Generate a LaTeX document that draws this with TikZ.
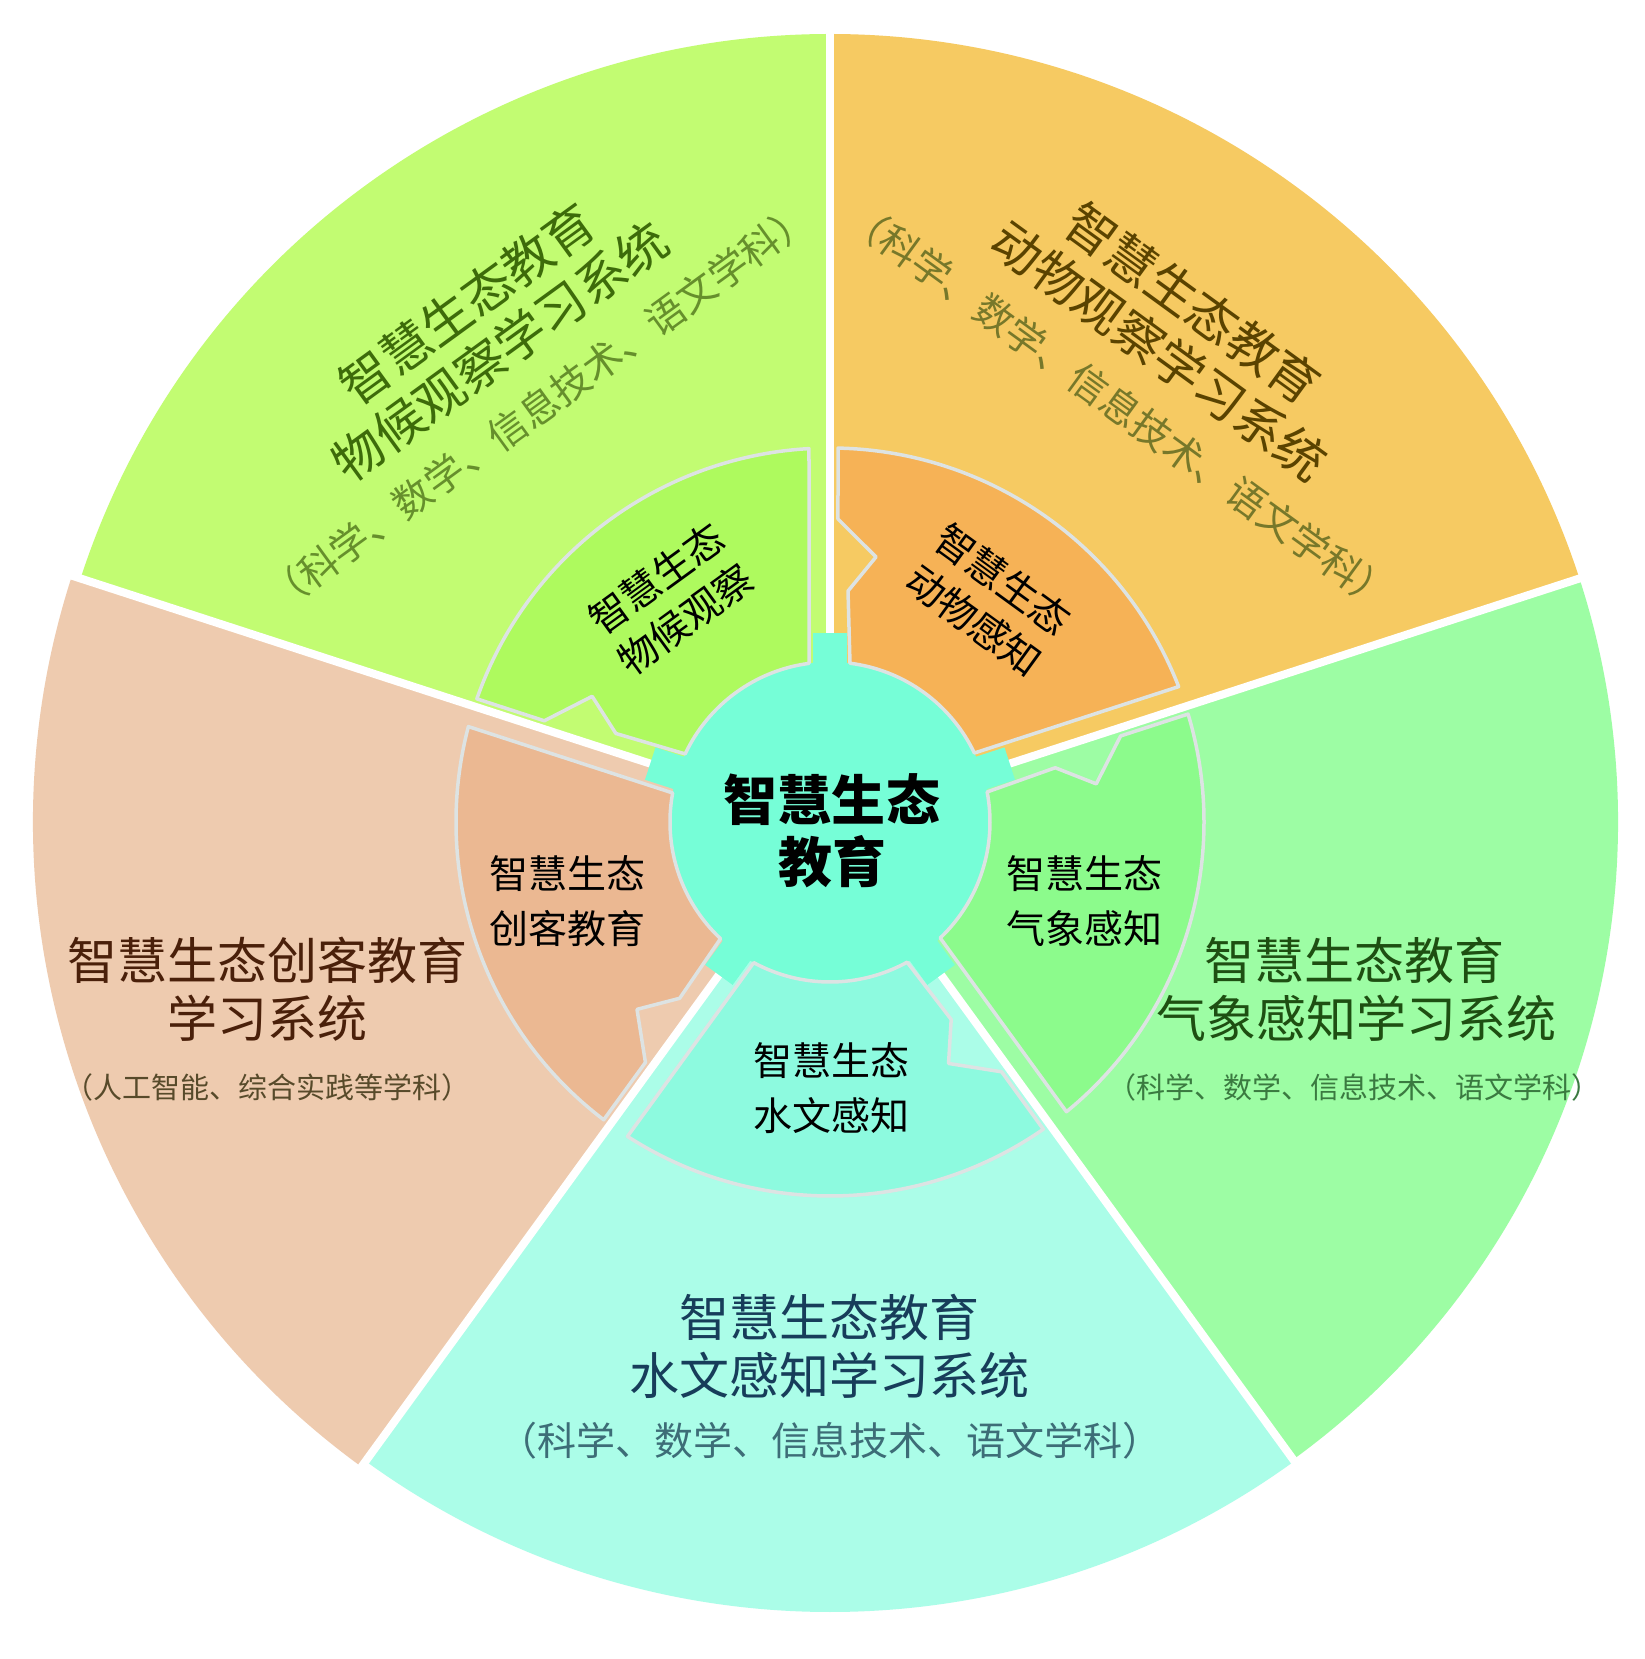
\documentclass[tikz,border=0pt]{standalone}
\usepackage{fontspec}
\setmainfont{Noto Sans CJK SC}
\definecolor{oTL}{HTML}{C2FC72}
\definecolor{oTR}{HTML}{F6CA62}
\definecolor{oR}{HTML}{9DFDA4}
\definecolor{oB}{HTML}{ABFDE8}
\definecolor{oL}{HTML}{EECBAF}
\definecolor{iTL}{HTML}{AEFA5E}
\definecolor{iTR}{HTML}{F6B256}
\definecolor{iR}{HTML}{8CFB8C}
\definecolor{iB}{HTML}{8DFADF}
\definecolor{iL}{HTML}{EBB892}
\definecolor{ctr}{HTML}{76FED7}
\definecolor{strokec}{HTML}{DDE3E3}
\definecolor{tTL}{HTML}{3D6B0A}
\definecolor{sTL}{HTML}{668F2C}
\definecolor{tTR}{HTML}{5A4300}
\definecolor{sTR}{HTML}{77782A}
\definecolor{tR}{HTML}{1E4F12}
\definecolor{sR}{HTML}{3A7A40}
\definecolor{tB}{HTML}{173D5A}
\definecolor{sB}{HTML}{3D6D77}
\definecolor{tL}{HTML}{4A200A}
\definecolor{sL}{HTML}{574A2A}
\begin{document}
\begin{tikzpicture}[x=1pt,y=1pt,
  piece/.style={draw=strokec, line width=3.5pt, line join=round},
  sep/.style={draw=white, line width=8pt},
  ttl/.style={font=\fontsize{50}{60}\selectfont, inner sep=0pt},
  subbig/.style={font=\fontsize{39}{46}\selectfont, inner sep=0pt},
  subsm/.style={font=\fontsize{29}{34}\selectfont, inner sep=0pt},
  inl/.style={font=\fontsize{39}{46}\selectfont, inner sep=0pt, text=black},
  ctl/.style={font=\fontsize{54}{64}\selectfont\bfseries, inner sep=0pt, text=black}
]
\useasboundingbox (-830,-837) rectangle (815,822);
\fill[white] (-830,-837) rectangle (815,822);
% outer sectors
\fill[oTL] (0,0) -- (90:788) arc[start angle=90,end angle=162,radius=788] -- cycle;
\fill[oTR] (0,0) -- (18:788) arc[start angle=18,end angle=90,radius=788] -- cycle;
\fill[oR] (0,0) -- (-54:788) arc[start angle=-54,end angle=18,radius=788] -- cycle;
\fill[oB] (0,0) -- (-126:790) arc[start angle=-126,end angle=-54,radius=790] -- cycle;
\fill[oL] (0,0) -- (162:797) arc[start angle=162,end angle=234,radius=797] -- cycle;
% separators
\foreach \b in {90,18,-54,-126,162} {\draw[sep] (0,0) -- (\b:810);}
% center gear
\foreach \b in {90,18,-54,-126,162} {\fill[ctr, rotate=\b] (0,-17) rectangle (189,17);}
\fill[ctr] (0,0) circle[radius=160];
% inner pieces
\foreach \a/\c in {90/iTL,18/iTR,-54/iR,-126/iB,162/iL} {
  \begin{scope}[rotate=\a]
  \path[piece, fill=\c] (7.54:160) -- (3.22:374) arc[start angle=3.22, end angle=70.77, radius=374]
    -- (70.49:303.1) -- (62.15:269) -- (67.54:231.7) -- (64.82:160)
    arc[start angle=64.82, end angle=7.54, radius=160] -- cycle;
  \end{scope}
}
% center text
\node[ctl] (c1) at (2,22) {智慧生态};
\node[ctl] (c2) at (2,-40) {教育};
% inner texts
\node[inl, rotate=36] (itl1) at (125.5:299) {智慧生态};
\node[inl, rotate=36] (itl2) at (125.5:249) {物候观察};
\node[inl, rotate=-36] (itr1) at (54.5:298) {智慧生态};
\node[inl, rotate=-36] (itr2) at (54.5:248) {动物感知};
\node[inl] (il1) at (-262,-52) {智慧生态};
\node[inl] (il2) at (-262,-107) {创客教育};
\node[inl] (ir1) at (254,-52) {智慧生态};
\node[inl] (ir2) at (254,-107) {气象感知};
\node[inl] (ib1) at (1,-239) {智慧生态};
\node[inl] (ib2) at (1,-294) {水文感知};
% outer texts top-left
\node[ttl, rotate=36, text=tTL] (otl1) at (125:633) {智慧生态教育};
\node[ttl, rotate=36, text=tTL] (otl2) at (125:575) {物候观察学习系统};
\node[subbig, rotate=36, text=sTL] (otl3) at (125:507) {（科学、数学、信息技术、语文学科）};
% top-right
\node[ttl, rotate=-36, text=tTR] (otr1) at (55:633) {智慧生态教育};
\node[ttl, rotate=-36, text=tTR] (otr2) at (55:575) {动物观察学习系统};
\node[subbig, rotate=-36, text=sTR] (otr3) at (55:507) {（科学、数学、信息技术、语文学科）};
% left
\node[ttl, text=tL] (ol1) at (-562,-138) {智慧生态创客教育};
\node[ttl, text=tL] (ol2) at (-562,-196) {学习系统};
\node[subsm, text=sL] (ol3) at (-562,-265) {（人工智能、综合实践等学科）};
% right
\node[ttl, text=tR] (or1) at (524,-138) {智慧生态教育};
\node[ttl, text=tR] (or2) at (526,-196) {气象感知学习系统};
\node[subsm, text=sR] (or3) at (524,-265) {（科学、数学、信息技术、语文学科）};
% bottom
\node[ttl, text=tB] (ob1) at (0,-495) {智慧生态教育};
\node[ttl, text=tB] (ob2) at (0,-553) {水文感知学习系统};
\node[subbig, text=sB] (ob3) at (0,-619) {（科学、数学、信息技术、语文学科）};
\end{tikzpicture}
\end{document}
